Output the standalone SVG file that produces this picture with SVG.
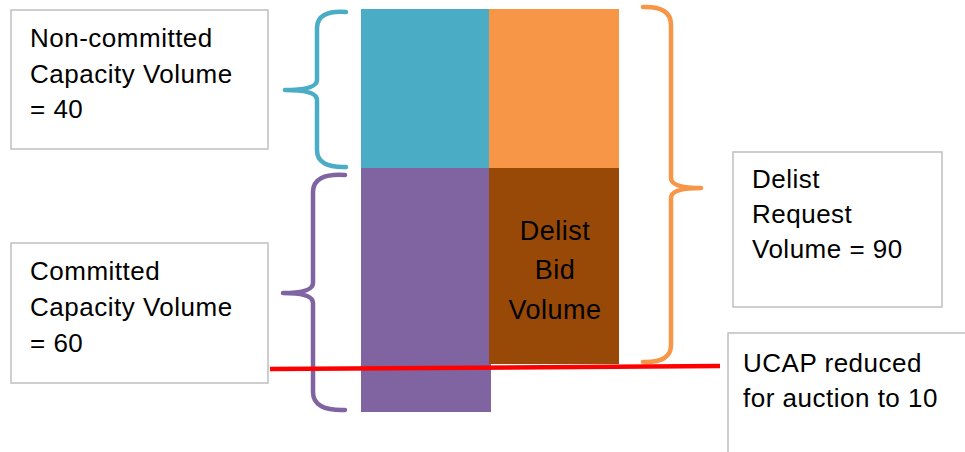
<svg xmlns="http://www.w3.org/2000/svg" width="965" height="452" viewBox="0 0 965 452">
<style>
.box{fill:#fff;stroke:#BFBFBF;stroke-width:1.5}
.t{font-family:"Liberation Sans",Arial,sans-serif;font-size:26px;letter-spacing:0.5px;fill:#000}
.brace{fill:none;stroke-width:4.5;stroke-linecap:round;stroke-linejoin:round}
</style>
<rect width="965" height="452" fill="#fff"/>
<g id="bars">
<rect id="noncommitted-bar" x="361" y="9" width="128" height="159" fill="#4BACC6"/>
<rect id="request-top-bar" x="489" y="9" width="130" height="159" fill="#F79646"/>
<rect id="committed-bar" x="361" y="168" width="130" height="244" fill="#8064A2"/>
<g id="delist-bid">
<rect x="489" y="168" width="130" height="196" fill="#984807"/>
<text class="t" text-anchor="middle" style="font-size:27px"><tspan x="555" y="240">Delist</tspan><tspan x="555" y="279">Bid</tspan><tspan x="555" y="319">Volume</tspan></text>
</g>
</g>
<g id="box-noncommitted">
<rect class="box" x="11" y="10" width="257" height="139"/>
<text class="t"><tspan x="30" y="47">Non-committed</tspan><tspan x="30" y="83">Capacity Volume</tspan><tspan x="30" y="118">= 40</tspan></text>
</g>
<g id="box-committed">
<rect class="box" x="11" y="243" width="257" height="140"/>
<text class="t"><tspan x="30" y="280">Committed</tspan><tspan x="30" y="316">Capacity Volume</tspan><tspan x="30" y="352">= 60</tspan></text>
</g>
<g id="box-delist-request">
<rect class="box" x="733" y="152" width="209" height="155"/>
<text class="t"><tspan x="752" y="188">Delist</tspan><tspan x="752" y="223">Request</tspan><tspan x="752" y="258">Volume = 90</tspan></text>
</g>
<g id="box-ucap">
<rect class="box" x="728" y="333" width="245" height="130"/>
<text class="t"><tspan x="743" y="372">UCAP reduced</tspan><tspan x="743" y="407">for auction to 10</tspan></text>
</g>
<g id="connectors">
<path class="brace" stroke="#4BACC6" d="M346,12 Q317,10 317,28 L317,80 Q317,90 285,90 Q317,90 317,100 L317,150 Q317,168 346,167"/>
<path class="brace" stroke="#8064A2" d="M345,175 Q313,173 313,192 L313,283 Q313,293 283,293 Q313,293 313,303 L313,392 Q313,411 345,410"/>
<path class="brace" stroke="#F79646" d="M643,7 Q671,6 671,25 L671,178 Q671,188 701,188 Q671,188 671,198 L671,345 Q671,363 643,362"/>
<line x1="270" y1="369" x2="720" y2="366" stroke="#FF0000" stroke-width="4.5"/>
</g>
</svg>
